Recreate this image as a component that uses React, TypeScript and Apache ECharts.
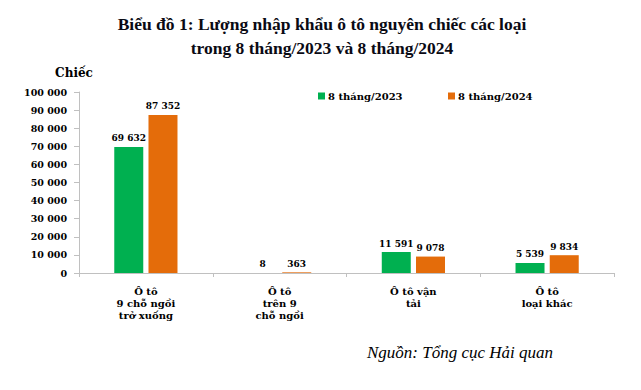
import React, { useEffect, useRef } from "react";
import * as echarts from "echarts";

const categories = [
  "Ô tô\n9 chỗ ngồi\ntrở xuống",
  "Ô tô\ntrên 9\nchỗ ngồi",
  "Ô tô vận\ntải",
  "Ô tô\nloại khác",
];
const series2023 = [69632, 8, 11591, 5539];
const series2024 = [87352, 363, 9078, 9834];
const seriesNames = ["8 tháng/2023", "8 tháng/2024"];
const titleLines = [
  "Biểu đồ 1: Lượng nhập khẩu ô tô nguyên chiếc các loại",
  "trong 8 tháng/2023 và 8 tháng/2024",
];
const sourceText = "Nguồn: Tổng cục Hải quan";

const SERIF = "'Liberation Serif', 'Times New Roman', serif";
const CHART_FONT = "'DejaVu Serif', serif";
const fmt = (v: number) => String(Math.round(v)).replace(/\B(?=(\d{3})+(?!\d))/g, " ");

export default function App() {
  const ref = useRef<HTMLDivElement>(null);
  useEffect(() => {
    const chart = echarts.init(ref.current!, null, { renderer: "svg" });
    const label = {
      show: true,
      position: "top" as const,
      distance: 4,
      color: "#000",
      fontFamily: CHART_FONT,
      fontWeight: "bold" as const,
      fontSize: 9,
      formatter: (p: any) => fmt(p.value),
    };
    const legendBase = {
      top: 86,
      icon: "rect",
      itemWidth: 7,
      itemHeight: 7,
      textStyle: {
        fontFamily: CHART_FONT,
        fontWeight: "bold",
        fontSize: 10,
        color: "#000",
        padding: [0, 0, 0, -2],
      },
    };
    chart.setOption({
      animation: false,
      backgroundColor: "#fff",
      legend: [
        { ...legendBase, data: [seriesNames[0]], left: 313 },
        { ...legendBase, data: [seriesNames[1]], left: 443 },
      ],
      grid: { left: 79, right: 27, top: 92, bottom: 117, containLabel: false },
      xAxis: {
        type: "category",
        data: categories,
        axisLine: { lineStyle: { color: "#c0c0c0" } },
        axisTick: { show: true, length: 4, lineStyle: { color: "#c0c0c0" } },
        axisLabel: {
          interval: 0,
          margin: 12,
          color: "#000",
          fontFamily: CHART_FONT,
          fontWeight: "bold",
          fontSize: 10,
          lineHeight: 12,
        },
      },
      yAxis: {
        type: "value",
        min: 0,
        max: 100000,
        interval: 10000,
        axisLine: { show: true, lineStyle: { color: "#c0c0c0" } },
        axisTick: { show: true, length: 5, lineStyle: { color: "#c0c0c0" } },
        splitLine: { show: false },
        axisLabel: {
          margin: 12,
          color: "#000",
          fontFamily: CHART_FONT,
          fontWeight: "bold",
          fontSize: 9.5,
          formatter: (v: number) => fmt(v),
        },
      },
      series: [
        {
          name: seriesNames[0],
          type: "bar",
          data: series2023,
          barWidth: 29,
          barGap: "18%",
          itemStyle: { color: "#00b050" },
          label,
        },
        {
          name: seriesNames[1],
          type: "bar",
          data: series2024,
          barWidth: 29,
          barGap: "18%",
          itemStyle: { color: "#e46c0a" },
          label,
        },
      ],
      graphic: [
        {
          type: "text",
          x: 322,
          y: 24,
          style: {
            text: titleLines[0],
            fontFamily: SERIF,
            fontWeight: "bold",
            fontSize: 17.5,
            fill: "#0a0a14",
            align: "center",
            verticalAlign: "middle",
          },
        },
        {
          type: "text",
          x: 322,
          y: 48,
          style: {
            text: titleLines[1],
            fontFamily: SERIF,
            fontWeight: "bold",
            fontSize: 17.5,
            fill: "#0a0a14",
            align: "center",
            verticalAlign: "middle",
          },
        },
        {
          type: "text",
          x: 74,
          y: 73,
          style: {
            text: "Chiếc",
            fontFamily: CHART_FONT,
            fontWeight: "bold",
            fontSize: 12,
            fill: "#000",
            align: "center",
            verticalAlign: "middle",
          },
        },
        {
          type: "text",
          x: 367,
          y: 352,
          style: {
            text: sourceText,
            fontFamily: SERIF,
            fontStyle: "italic",
            fontSize: 17,
            fill: "#000",
            align: "left",
            verticalAlign: "middle",
          },
        },
      ],
    });
    return () => chart.dispose();
  }, []);
  return <div ref={ref} style={{ position: "fixed", left: 0, top: 0, width: 641, height: 390 }} />;
}
